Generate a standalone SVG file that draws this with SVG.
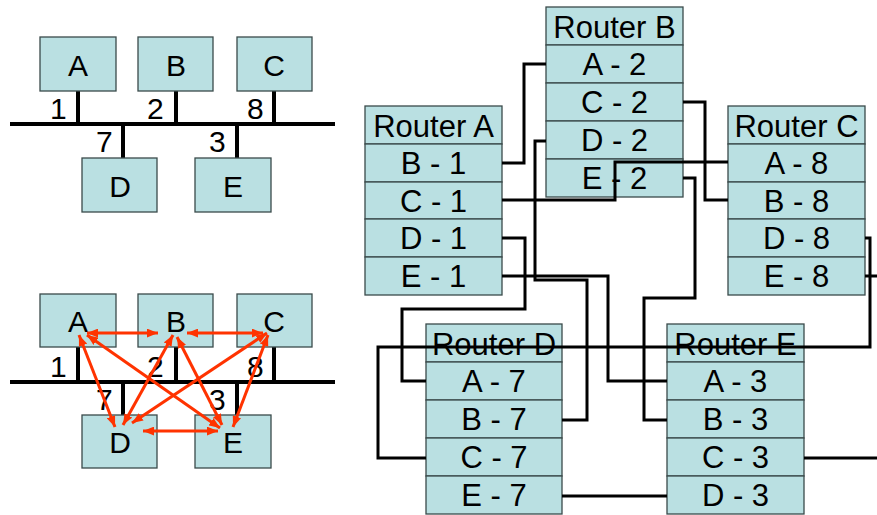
<svg xmlns="http://www.w3.org/2000/svg" width="877" height="515" viewBox="0 0 877 515">
<defs>
<marker id="ah" viewBox="0 0 10 8" refX="10" refY="4" markerWidth="11" markerHeight="9" markerUnits="userSpaceOnUse" orient="auto-start-reverse">
<path d="M0,0 L10,4 L0,8 Z" fill="#FF3300"/>
</marker>
</defs>
<style>
.box{fill:#BAE0E2;stroke:#3a4a4a;stroke-width:1.3}
.lbl{font-family:"Liberation Sans",Arial,sans-serif;font-size:30px;fill:#000;text-anchor:middle}
.num{font-family:"Liberation Sans",Arial,sans-serif;font-size:30px;fill:#000}
.bus{stroke:#000;stroke-width:4;fill:none}
.rt{font-family:"Liberation Sans",Arial,sans-serif;font-size:31px;fill:#000;text-anchor:middle}
.wire{stroke:#000;stroke-width:3;fill:none}
.arr{stroke:#FF3300;stroke-width:3;fill:none;marker-start:url(#ah);marker-end:url(#ah)}
</style>
<rect width="877" height="515" fill="#fff"/>

<!-- Top-left network -->
<g id="net1">
<line class="bus" x1="10" y1="124" x2="335" y2="124"/>
<line class="bus" x1="78" y1="91" x2="78" y2="122"/>
<line class="bus" x1="176" y1="91" x2="176" y2="122"/>
<line class="bus" x1="274" y1="91" x2="274" y2="122"/>
<line class="bus" x1="123" y1="126" x2="123" y2="158"/>
<line class="bus" x1="237" y1="126" x2="237" y2="158"/>
<text class="num" x="50" y="119">1</text>
<text class="num" x="147" y="119">2</text>
<text class="num" x="247" y="119">8</text>
<text class="num" x="96" y="152">7</text>
<text class="num" x="209" y="152">3</text>
</g>
<g id="n1A"><rect class="box" x="40" y="37" width="76" height="54"/><text class="lbl" x="78" y="76">A</text></g>
<g id="n1B"><rect class="box" x="138" y="37" width="75" height="54"/><text class="lbl" x="176" y="76">B</text></g>
<g id="n1C"><rect class="box" x="237" y="37" width="75" height="54"/><text class="lbl" x="274" y="76">C</text></g>
<g id="n1D"><rect class="box" x="82" y="158" width="75" height="54"/><text class="lbl" x="120" y="197">D</text></g>
<g id="n1E"><rect class="box" x="195" y="158" width="76" height="54"/><text class="lbl" x="233" y="197">E</text></g>

<!-- Bottom-left network -->
<g id="net2">
<line class="bus" x1="10" y1="382" x2="335" y2="382"/>
<line class="bus" x1="78" y1="347" x2="78" y2="380"/>
<line class="bus" x1="176" y1="347" x2="176" y2="380"/>
<line class="bus" x1="274" y1="347" x2="274" y2="380"/>
<line class="bus" x1="123" y1="384" x2="123" y2="415"/>
<line class="bus" x1="237" y1="384" x2="237" y2="415"/>
<text class="num" x="50" y="377">1</text>
<text class="num" x="147" y="377">2</text>
<text class="num" x="247" y="377">8</text>
<text class="num" x="96" y="410">7</text>
<text class="num" x="209" y="410">3</text>
</g>
<g id="n2A"><rect class="box" x="40" y="294" width="76" height="53"/><text class="lbl" x="78" y="332">A</text></g>
<g id="n2B"><rect class="box" x="138" y="294" width="75" height="53"/><text class="lbl" x="176" y="332">B</text></g>
<g id="n2C"><rect class="box" x="237" y="294" width="75" height="53"/><text class="lbl" x="274" y="332">C</text></g>
<g id="n2D"><rect class="box" x="82" y="415" width="75" height="53"/><text class="lbl" x="120" y="453">D</text></g>
<g id="n2E"><rect class="box" x="195" y="415" width="76" height="53"/><text class="lbl" x="233" y="453">E</text></g>

<g id="arrows">
<line class="arr" x1="87" y1="333" x2="158" y2="333"/>
<line class="arr" x1="187" y1="333" x2="263" y2="333"/>
<line class="arr" x1="79" y1="335" x2="115" y2="427"/>
<line class="arr" x1="87" y1="335" x2="220" y2="428"/>
<line class="arr" x1="173" y1="335" x2="123" y2="425"/>
<line class="arr" x1="177" y1="337" x2="222" y2="425"/>
<line class="arr" x1="267" y1="333" x2="132" y2="423"/>
<line class="arr" x1="268" y1="335" x2="233" y2="427"/>
<line class="arr" x1="143" y1="431" x2="218" y2="431"/>
</g>

<!-- Routers -->
<g id="routerA">
<rect class="box" x="365" y="106" width="137" height="38"/>
<rect class="box" x="365" y="144" width="137" height="38"/>
<rect class="box" x="365" y="182" width="137" height="37"/>
<rect class="box" x="365" y="219" width="137" height="38"/>
<rect class="box" x="365" y="257" width="137" height="38"/>
<text class="rt" x="433.5" y="137">Router A</text>
<text class="rt" x="433.5" y="174">B - 1</text>
<text class="rt" x="433.5" y="212">C - 1</text>
<text class="rt" x="433.5" y="249">D - 1</text>
<text class="rt" x="433.5" y="287">E - 1</text>
</g>
<g id="routerB">
<rect class="box" x="546" y="7" width="137" height="38"/>
<rect class="box" x="546" y="45" width="137" height="38"/>
<rect class="box" x="546" y="83" width="137" height="38"/>
<rect class="box" x="546" y="121" width="137" height="38"/>
<rect class="box" x="546" y="159" width="137" height="38"/>
<text class="rt" x="614.5" y="38">Router B</text>
<text class="rt" x="614.5" y="75">A - 2</text>
<text class="rt" x="614.5" y="113">C - 2</text>
<text class="rt" x="614.5" y="151">D - 2</text>
<text class="rt" x="614.5" y="189">E - 2</text>
</g>
<g id="routerC">
<rect class="box" x="728" y="106" width="137" height="38"/>
<rect class="box" x="728" y="144" width="137" height="38"/>
<rect class="box" x="728" y="182" width="137" height="37"/>
<rect class="box" x="728" y="219" width="137" height="38"/>
<rect class="box" x="728" y="257" width="137" height="38"/>
<text class="rt" x="796.5" y="137">Router C</text>
<text class="rt" x="796.5" y="174">A - 8</text>
<text class="rt" x="796.5" y="212">B - 8</text>
<text class="rt" x="796.5" y="249">D - 8</text>
<text class="rt" x="796.5" y="287">E - 8</text>
</g>
<g id="routerD">
<rect class="box" x="426" y="324" width="136" height="38"/>
<rect class="box" x="426" y="362" width="136" height="38"/>
<rect class="box" x="426" y="400" width="136" height="38"/>
<rect class="box" x="426" y="438" width="136" height="38"/>
<rect class="box" x="426" y="476" width="136" height="38"/>
<text class="rt" x="494" y="355">Router D</text>
<text class="rt" x="494" y="392">A - 7</text>
<text class="rt" x="494" y="430">B - 7</text>
<text class="rt" x="494" y="468">C - 7</text>
<text class="rt" x="494" y="506">E - 7</text>
</g>
<g id="routerE">
<rect class="box" x="667" y="324" width="137" height="38"/>
<rect class="box" x="667" y="362" width="137" height="38"/>
<rect class="box" x="667" y="400" width="137" height="38"/>
<rect class="box" x="667" y="438" width="137" height="38"/>
<rect class="box" x="667" y="476" width="137" height="38"/>
<text class="rt" x="735.5" y="355">Router E</text>
<text class="rt" x="735.5" y="392">A - 3</text>
<text class="rt" x="735.5" y="430">B - 3</text>
<text class="rt" x="735.5" y="468">C - 3</text>
<text class="rt" x="735.5" y="506">D - 3</text>
</g>

<g id="connectors">
<path class="wire" d="M502,163 H524 V64 H546"/>
<path class="wire" d="M502,200 H615 V162 H728"/>
<path class="wire" d="M683,102 H705 V200 H728"/>
<path class="wire" d="M502,238 H525 V309 H402 V381 H426"/>
<path class="wire" d="M502,276 H608 V381 H667"/>
<path class="wire" d="M546,141 H535 V280 H587 V420 H562"/>
<path class="wire" d="M683,178 H695 V298 H644 V420 H667"/>
<path class="wire" d="M865,238 H870 V347 H378 V458 H426"/>
<path class="wire" d="M865,276 H880"/>
<path class="wire" d="M804,458 H880"/>
<path class="wire" d="M562,496 H667"/>
</g>
</svg>
